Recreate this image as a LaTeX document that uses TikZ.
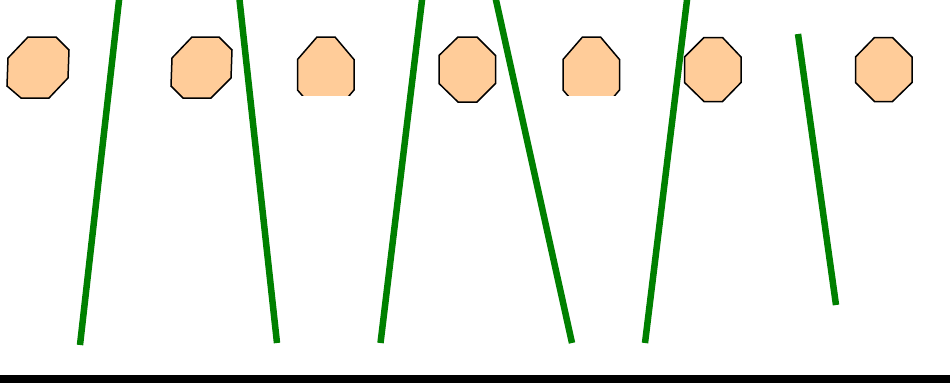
\documentclass[tikz,border=0pt]{standalone}
\definecolor{peach}{RGB}{255,204,153}
\definecolor{leaf}{RGB}{0,128,0}
\begin{document}
\begin{tikzpicture}[x=1pt,y=-1pt,
    octa/.style={fill=peach,draw=black,line width=1.5pt},
    stalk/.style={draw=leaf,line width=6.5pt}]
                \useasboundingbox (0,0) rectangle (950,386);
                % octagons
                \draw[octa] (28,37) -- (56,37) -- (69,50) -- (68,78) -- (49,98) -- (21,98) -- (7,86) -- (8,58) -- cycle;
                \draw[octa] (192,37) -- (219,37) -- (232,50) -- (231,78) -- (211,98) -- (183,98) -- (171,86) -- (172,58) -- cycle;
                \begin{scope}
                    \clip (0,0) rectangle (950,95);
                    \draw[octa] (317,37) -- (335,37) -- (354,59.5) -- (354,90) -- (335,112.5) -- (317,112.5) -- (297.5,90) -- (297.5,59.5) -- cycle;
                    \draw[octa] (582.5,37) -- (600.5,37) -- (619.5,59.5) -- (619.5,90) -- (600.5,112.5) -- (582.5,112.5) -- (563,90) -- (563,59.5) -- cycle;
                \end{scope}
                \draw[octa] (458,37) -- (477,37) -- (495.5,55.5) -- (495.5,83.5) -- (477,102) -- (458,102) -- (439,83.5) -- (439,55.5) -- cycle;
                \draw[octa] (704,37.5) -- (722.5,37.5) -- (741,57) -- (741,82.5) -- (722.5,101.5) -- (704,101.5) -- (684.5,82.5) -- (684.5,57) -- cycle;
                \draw[octa] (874.5,37.5) -- (892.5,37.5) -- (912,57) -- (912,82.5) -- (892.5,101.5) -- (874.5,101.5) -- (855.5,82.5) -- (855.5,57) -- cycle;
                % green strokes
                \draw[stalk] (119.5,-4) -- (80,345);
                \draw[stalk] (239.1,-4) -- (277,343);
                \draw[stalk] (422.5,-4) -- (380.5,343);
                \draw[stalk] (495.1,-4) -- (572,343);
                \draw[stalk] (687.5,-4) -- (645,343);
                \draw[stalk] (798,34) -- (836,305);
                % ground
                \draw[line width=8pt] (-5,379) -- (955,379);
            \end{tikzpicture}
\end{document}
